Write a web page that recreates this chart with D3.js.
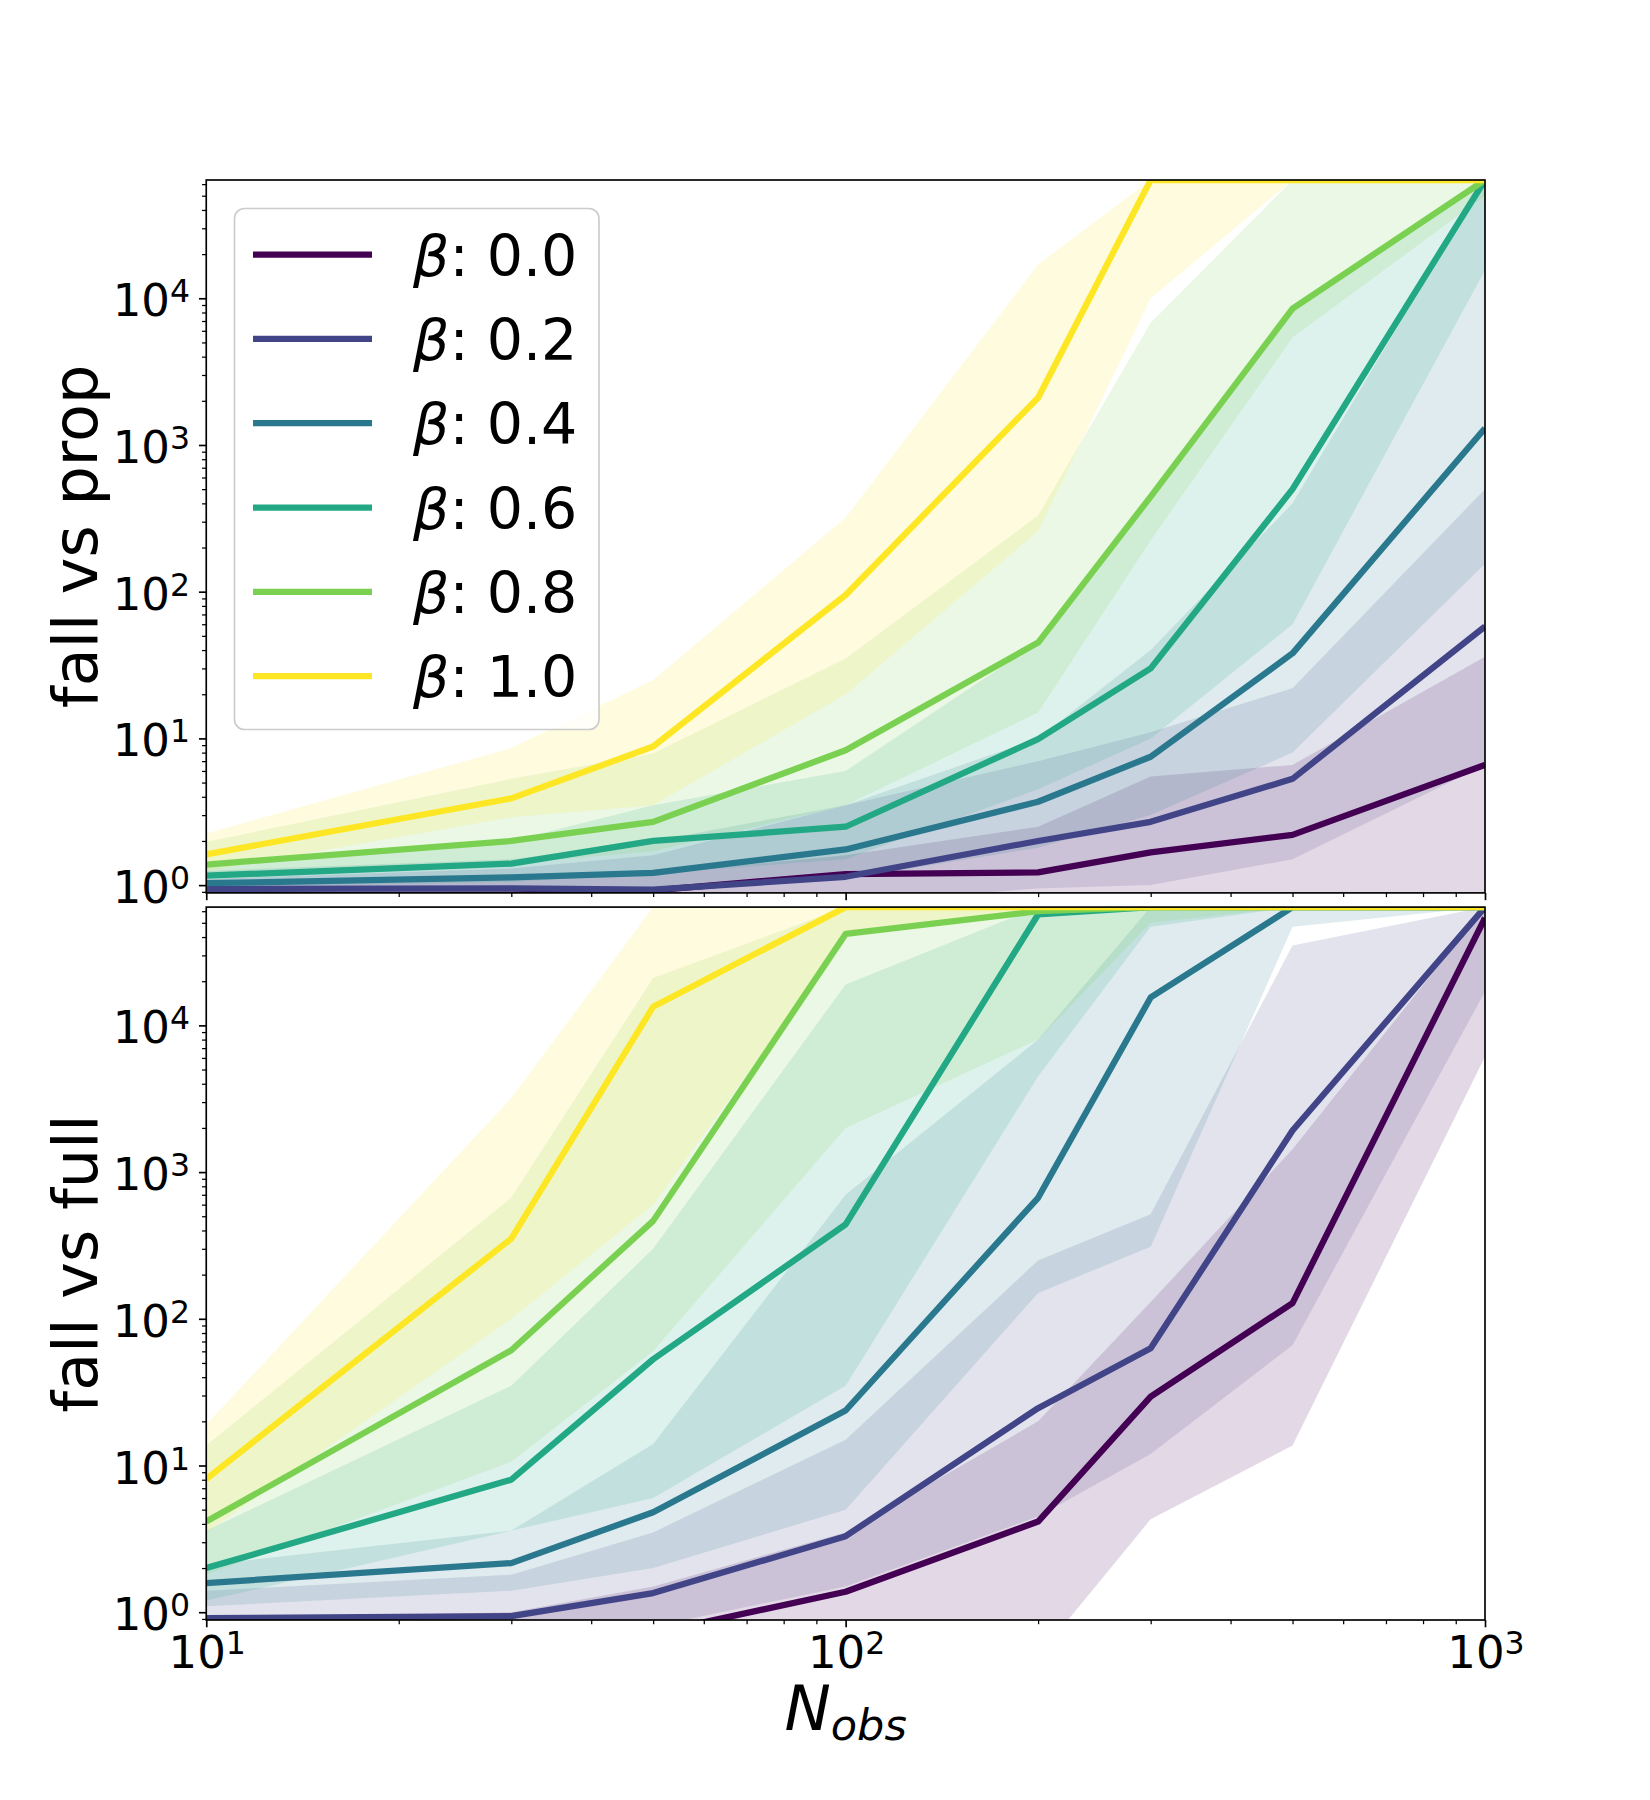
<!DOCTYPE html>
<html>
<head>
<meta charset="utf-8">
<script src="https://cdn.jsdelivr.net/npm/d3@7"></script>
<style>
  html, body { margin: 0; padding: 0; background: #ffffff; }
  svg { display: block; }
  text { font-family: "DejaVu Sans", sans-serif; fill: #000; }
</style>
</head>
<body>
<div id="chart"></div>
<script>
// ---------------- data ----------------
const nObs = [10, 30, 50, 100, 200, 300, 500, 1000];
const betaLabels = ["0.0", "0.2", "0.4", "0.6", "0.8", "1.0"];
const seriesColors = ["#440154", "#414487", "#2a788e", "#22a884", "#7ad151", "#fde725"];
const yTickExponents = [0, 1, 2, 3, 4];
const xTickExponents = [1, 2, 3];
const panelLabels = ["fall vs prop", "fall vs full"];

// panel 1: fall vs prop
const propMedian = [
  [0.85, 0.86, 0.92, 1.19, 1.22, 1.67, 2.2, 6.6],
  [0.94, 0.95, 0.93, 1.14, 2.0, 2.7, 5.3, 58],
  [1.03, 1.13, 1.21, 1.75, 3.7, 7.5, 38, 1300],
  [1.16, 1.4, 2.0, 2.5, 9.9, 30, 500, 64000],
  [1.38, 2.0, 2.7, 8.3, 45, 445, 8500, 64000],
  [1.62, 3.9, 8.8, 95, 2100, 64000, 64000, 64000]
];
const propLower = [
  [0.5, 0.5, 0.55, 0.6, 0.6, 0.65, 0.7, 0.8],
  [0.7, 0.7, 0.7, 0.75, 0.95, 1.0, 1.5, 6.6],
  [0.85, 0.9, 0.95, 1.1, 1.8, 3.0, 8, 155],
  [0.97, 1.05, 1.2, 1.5, 4.5, 10, 60, 15500],
  [1.15, 1.4, 1.7, 3.5, 15, 224, 5400, 50000],
  [1.25, 2.9, 3.5, 20, 260, 10000, 64000, 64000]
];
const propUpper = [
  [1.05, 1.1, 1.2, 1.6, 2.5, 5.5, 6.6, 36],
  [1.1, 1.3, 1.6, 3.5, 7, 11, 22, 500],
  [1.25, 1.5, 2.0, 3.5, 10, 40, 400, 64000],
  [1.4, 2.0, 3.5, 6, 45, 445, 8500, 64000],
  [1.97, 5.3, 7.9, 35, 330, 6800, 64000, 64000],
  [2.25, 8.6, 25, 320, 17000, 64000, 64000, 64000]
];

// panel 2: fall vs full
const fullMedian = [
  [0.5, 0.6, 0.72, 1.38, 4.15, 29.5, 128, 54000],
  [0.91, 0.94, 1.35, 3.3, 24.6, 63, 1920, 64000],
  [1.58, 2.16, 4.8, 23.7, 668, 15500, 64000, 64000],
  [2.0, 8.0, 53, 440, 57000, 64000, 64000, 64000],
  [4.15, 61, 465, 42000, 60000, 64000, 64000, 64000],
  [8.1, 352, 13400, 64000, 64000, 64000, 64000, 64000]
];
const fullLower = [
  [0.3, 0.3, 0.3, 0.35, 0.5, 4.3, 13.7, 6100],
  [0.6, 0.65, 0.8, 1.5, 4.5, 12, 66, 17000],
  [1.1, 1.4, 2.0, 5, 150, 310, 47000, 64000],
  [1.2, 3.6, 6, 35, 4500, 47000, 64000, 64000],
  [1.8, 10.6, 60, 2000, 8000, 50000, 64000, 64000],
  [3.5, 100, 600, 40000, 64000, 64000, 64000, 64000]
];
const fullUpper = [
  [0.9, 1.0, 1.5, 3.5, 20, 130, 1430, 64000],
  [1.4, 1.8, 3.5, 15, 250, 516, 35000, 64000],
  [2.1, 3.6, 14, 700, 8000, 64000, 64000, 64000],
  [3.6, 35, 300, 19000, 64000, 64000, 64000, 64000],
  [13.7, 670, 21000, 64000, 64000, 64000, 64000, 64000],
  [19, 3200, 64000, 64000, 64000, 64000, 64000, 64000]
];

// ---------------- layout ----------------
const W = 1650, H = 1800;
const left = 206.25, right = 1485;
const panels = [
  { top: 180, bottom: 892.9, med: propMedian, lo: propLower, hi: propUpper, label: panelLabels[0], xLabels: false },
  { top: 907.1, bottom: 1620, med: fullMedian, lo: fullLower, hi: fullUpper, label: panelLabels[1], xLabels: true }
];
const yDomain = [0.885, 64000];
const tickFont = 45, supFont = 31.5;

const svg = d3.select("#chart").append("svg")
  .attr("width", W).attr("height", H)
  .attr("viewBox", `0 0 ${W} ${H}`);

const x = d3.scaleLog().domain([10, 1000]).range([left, right]);

function minorTicks(lo, hi) {
  const out = [];
  for (let e = Math.floor(Math.log10(lo)) - 1; e <= Math.ceil(Math.log10(hi)); e++) {
    for (let m = 2; m <= 9; m++) {
      const v = m * Math.pow(10, e);
      if (v >= lo && v <= hi) out.push(v);
    }
  }
  return out;
}

panels.forEach((p, pi) => {
  const y = d3.scaleLog().domain(yDomain).range([p.bottom, p.top]);
  const g = svg.append("g");
  const clipId = "clip" + pi;
  g.append("clipPath").attr("id", clipId)
    .append("rect").attr("x", left).attr("y", p.top)
    .attr("width", right - left).attr("height", p.bottom - p.top);

  const plot = g.append("g").attr("clip-path", `url(#${clipId})`);

  const area = d3.area()
    .x((d, i) => x(nObs[i]))
    .y0(d => y(d[0]))
    .y1(d => y(d[1]));
  const line = d3.line()
    .x((d, i) => x(nObs[i]))
    .y(d => y(d));

  // bands
  betaLabels.forEach((b, si) => {
    const pairs = nObs.map((n, i) => [p.lo[si][i], p.hi[si][i]]);
    plot.append("path")
      .attr("d", area(pairs))
      .attr("fill", seriesColors[si])
      .attr("fill-opacity", 0.15)
      .attr("stroke", "none");
  });
  // median lines
  betaLabels.forEach((b, si) => {
    plot.append("path")
      .attr("d", line(p.med[si]))
      .attr("fill", "none")
      .attr("stroke", seriesColors[si])
      .attr("stroke-width", 6.25)
      .attr("stroke-linejoin", "round")
      .attr("stroke-linecap", "butt");
  });

  // axes ticks
  const yMajor = yTickExponents.map(e => Math.pow(10, e));
  const yMinor = minorTicks(yDomain[0], yDomain[1]);
  const xMajor = xTickExponents.map(e => Math.pow(10, e));
  const xMinor = minorTicks(10, 1000);

  const yAxisMajor = d3.axisLeft(y).tickValues(yMajor).tickSize(7.3).tickFormat("");
  const yAxisMinor = d3.axisLeft(y).tickValues(yMinor).tickSize(4.2).tickFormat("");
  const xAxisMajor = d3.axisBottom(x).tickValues(xMajor).tickSize(7.3).tickFormat("");
  const xAxisMinor = d3.axisBottom(x).tickValues(xMinor).tickSize(4.2).tickFormat("");

  const styleAxis = (sel, w) => {
    sel.select(".domain").remove();
    sel.selectAll(".tick line").attr("stroke", "#000").attr("stroke-width", w);
  };
  g.append("g").attr("transform", `translate(${left},0)`).call(yAxisMajor).call(s => styleAxis(s, 1.67));
  g.append("g").attr("transform", `translate(${left},0)`).call(yAxisMinor).call(s => styleAxis(s, 1.25));
  g.append("g").attr("transform", `translate(0,${p.bottom})`).call(xAxisMajor).call(s => styleAxis(s, 1.67));
  g.append("g").attr("transform", `translate(0,${p.bottom})`).call(xAxisMinor).call(s => styleAxis(s, 1.25));

  // frame
  g.append("rect")
    .attr("x", left).attr("y", p.top)
    .attr("width", right - left).attr("height", p.bottom - p.top)
    .attr("fill", "none").attr("stroke", "#000").attr("stroke-width", 1.67);

  // y tick labels
  const yl = g.append("g");
  yTickExponents.forEach(e => {
    const t = yl.append("text")
      .attr("x", 190)
      .attr("y", y(Math.pow(10, e)) + 18)
      .attr("text-anchor", "end")
      .style("font-size", tickFont + "px");
    t.append("tspan").text("10");
    t.append("tspan").attr("dy", -14).style("font-size", supFont + "px").text(String(e));
  });

  // x tick labels
  if (p.xLabels) {
    xTickExponents.forEach(e => {
      const t = g.append("text")
        .attr("x", x(Math.pow(10, e)) + 1)
        .attr("y", 1668)
        .attr("text-anchor", "middle")
        .style("font-size", tickFont + "px");
      t.append("tspan").text("10");
      t.append("tspan").attr("dy", -14).style("font-size", supFont + "px").text(String(e));
    });
  }

  // y label
  g.append("text")
    .attr("transform", `translate(97,${(p.top + p.bottom) / 2}) rotate(-90)`)
    .attr("text-anchor", "middle")
    .style("font-size", "62px")
    .text(p.label);
});

// x label
const xl = svg.append("text")
  .attr("x", (left + right) / 2)
  .attr("y", 1730)
  .attr("text-anchor", "middle")
  .style("font-size", "62px");
xl.append("tspan").style("font-style", "italic").text("N");
xl.append("tspan").attr("dy", 10).style("font-style", "italic").style("font-size", "43px").text("obs");

// legend
const leg = svg.append("g");
leg.append("rect")
  .attr("x", 234.5).attr("y", 208.5)
  .attr("width", 364.5).attr("height", 521)
  .attr("rx", 10).attr("ry", 10)
  .attr("fill", "#ffffff").attr("fill-opacity", 0.8)
  .attr("stroke", "#cccccc").attr("stroke-width", 1.67);
const legRow = d3.scaleLinear().domain([0, 5]).range([254.5, 676.2]);
betaLabels.forEach((b, i) => {
  const cy = legRow(i);
  leg.append("line")
    .attr("x1", 253).attr("x2", 372)
    .attr("y1", cy).attr("y2", cy)
    .attr("stroke", seriesColors[i]).attr("stroke-width", 6.25);
  const t = leg.append("text")
    .attr("x", 413).attr("y", cy + 21)
    .style("font-size", "57px");
  t.append("tspan").style("font-style", "italic").text("β");
  t.append("tspan").text(": " + b);
});
</script>
</body>
</html>
